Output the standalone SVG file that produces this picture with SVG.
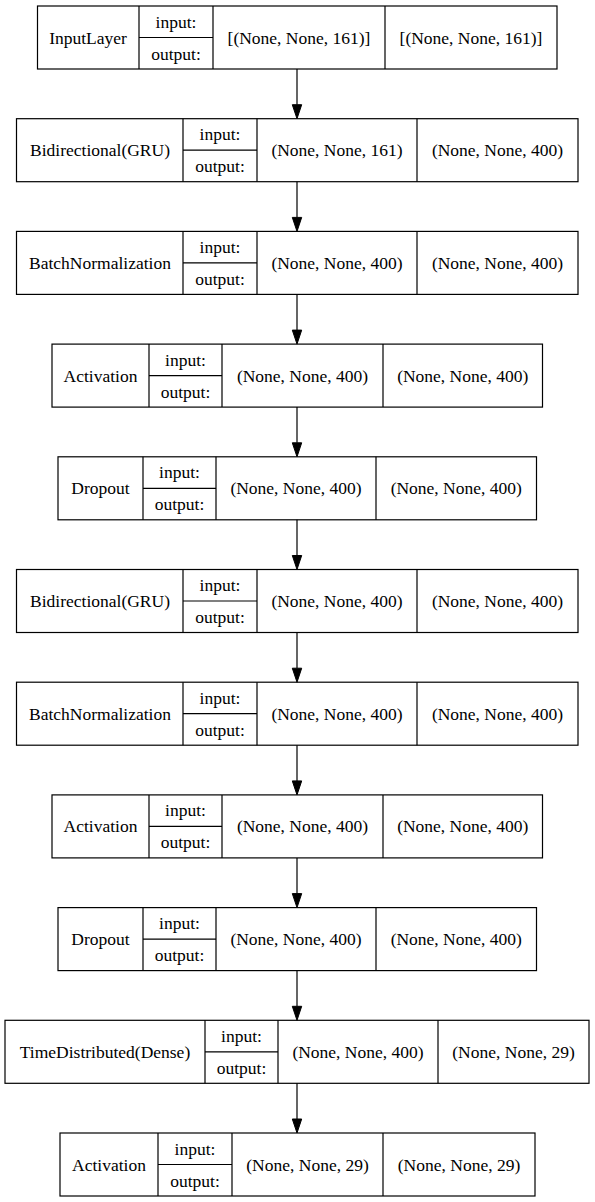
<svg xmlns="http://www.w3.org/2000/svg" width="595" height="1202" viewBox="0 0 595 1202">
  <style>
    .box { fill: #ffffff; stroke: #000000; stroke-width: 1.2; }
    .sep { stroke: #000000; stroke-width: 1.2; fill: none; }
    text { font-family: "Liberation Serif", "Times New Roman", serif; font-size: 17.5px; fill: #000000; text-anchor: middle; }
    .edge { stroke: #000000; stroke-width: 1.2; fill: none; }
    .head { fill: #000000; stroke: #000000; stroke-width: 1; }
  </style>
  <rect width="595" height="1202" fill="#ffffff"/>

  <!-- layer records: name | input:/output: | input shape | output shape -->
  <g id="node1">
    <rect class="box" x="37.5" y="6" width="519.5" height="63"/>
    <path class="sep" d="M139,6V69M213,6V69M385,6V69M139,37.5H213"/>
    <text x="88" y="43.5">InputLayer</text>
    <text x="176" y="27.5">input:</text>
    <text x="176" y="59.5">output:</text>
    <text x="299" y="43.5">[(None, None, 161)]</text>
    <text x="471" y="43.5">[(None, None, 161)]</text>
  </g>

  <g id="node2">
    <rect class="box" x="16.5" y="118.7" width="561.5" height="63"/>
    <path class="sep" d="M183,118.7V181.7M257,118.7V181.7M417,118.7V181.7M183,150.2H257"/>
    <text x="100" y="156.2">Bidirectional(GRU)</text>
    <text x="220" y="140.2">input:</text>
    <text x="220" y="172.2">output:</text>
    <text x="337" y="156.2">(None, None, 161)</text>
    <text x="497.5" y="156.2">(None, None, 400)</text>
  </g>

  <g id="node3">
    <rect class="box" x="16.5" y="231.4" width="561.5" height="63"/>
    <path class="sep" d="M183,231.4V294.4M257,231.4V294.4M417,231.4V294.4M183,262.9H257"/>
    <text x="100" y="268.9">BatchNormalization</text>
    <text x="220" y="252.9">input:</text>
    <text x="220" y="284.9">output:</text>
    <text x="337" y="268.9">(None, None, 400)</text>
    <text x="497.5" y="268.9">(None, None, 400)</text>
  </g>

  <g id="node4">
    <rect class="box" x="52" y="344.1" width="490.5" height="63"/>
    <path class="sep" d="M149,344.1V407.1M222,344.1V407.1M383,344.1V407.1M149,375.6H222"/>
    <text x="100.5" y="381.6">Activation</text>
    <text x="185.5" y="365.6">input:</text>
    <text x="185.5" y="397.6">output:</text>
    <text x="302.5" y="381.6">(None, None, 400)</text>
    <text x="462.75" y="381.6">(None, None, 400)</text>
  </g>

  <g id="node5">
    <rect class="box" x="58" y="456.8" width="478.5" height="63"/>
    <path class="sep" d="M143,456.8V519.8M216,456.8V519.8M376,456.8V519.8M143,488.3H216"/>
    <text x="100.5" y="494.3">Dropout</text>
    <text x="179.5" y="478.3">input:</text>
    <text x="179.5" y="510.3">output:</text>
    <text x="296" y="494.3">(None, None, 400)</text>
    <text x="456.25" y="494.3">(None, None, 400)</text>
  </g>

  <g id="node6">
    <rect class="box" x="16.5" y="569.5" width="561.5" height="63"/>
    <path class="sep" d="M183,569.5V632.5M257,569.5V632.5M417,569.5V632.5M183,601H257"/>
    <text x="100" y="607">Bidirectional(GRU)</text>
    <text x="220" y="591">input:</text>
    <text x="220" y="623">output:</text>
    <text x="337" y="607">(None, None, 400)</text>
    <text x="497.5" y="607">(None, None, 400)</text>
  </g>

  <g id="node7">
    <rect class="box" x="16.5" y="682.2" width="561.5" height="63"/>
    <path class="sep" d="M183,682.2V745.2M257,682.2V745.2M417,682.2V745.2M183,713.7H257"/>
    <text x="100" y="719.7">BatchNormalization</text>
    <text x="220" y="703.7">input:</text>
    <text x="220" y="735.7">output:</text>
    <text x="337" y="719.7">(None, None, 400)</text>
    <text x="497.5" y="719.7">(None, None, 400)</text>
  </g>

  <g id="node8">
    <rect class="box" x="52" y="794.9" width="490.5" height="63"/>
    <path class="sep" d="M149,794.9V857.9M222,794.9V857.9M383,794.9V857.9M149,826.4H222"/>
    <text x="100.5" y="832.4">Activation</text>
    <text x="185.5" y="816.4">input:</text>
    <text x="185.5" y="848.4">output:</text>
    <text x="302.5" y="832.4">(None, None, 400)</text>
    <text x="462.75" y="832.4">(None, None, 400)</text>
  </g>

  <g id="node9">
    <rect class="box" x="58" y="907.6" width="478.5" height="63"/>
    <path class="sep" d="M143,907.6V970.6M216,907.6V970.6M376,907.6V970.6M143,939.1H216"/>
    <text x="100.5" y="945.1">Dropout</text>
    <text x="179.5" y="929.1">input:</text>
    <text x="179.5" y="961.1">output:</text>
    <text x="296" y="945.1">(None, None, 400)</text>
    <text x="456.25" y="945.1">(None, None, 400)</text>
  </g>

  <g id="node10">
    <rect class="box" x="5" y="1020.3" width="584" height="63"/>
    <path class="sep" d="M205,1020.3V1083.3M278,1020.3V1083.3M438,1020.3V1083.3M205,1051.8H278"/>
    <text x="105" y="1057.8">TimeDistributed(Dense)</text>
    <text x="241.5" y="1041.8">input:</text>
    <text x="241.5" y="1073.8">output:</text>
    <text x="358" y="1057.8">(None, None, 400)</text>
    <text x="513.5" y="1057.8">(None, None, 29)</text>
  </g>

  <g id="node11">
    <rect class="box" x="60" y="1133" width="475" height="63"/>
    <path class="sep" d="M158,1133V1196M232,1133V1196M383,1133V1196M158,1164.5H232"/>
    <text x="109" y="1170.5">Activation</text>
    <text x="195" y="1154.5">input:</text>
    <text x="195" y="1186.5">output:</text>
    <text x="307.5" y="1170.5">(None, None, 29)</text>
    <text x="459" y="1170.5">(None, None, 29)</text>
  </g>

  <!-- connectors: straight drops from each layer to the next -->
  <g id="edges">
    <path class="edge" d="M297,69V104.7M297,181.7V217.4M297,294.4V330.1M297,407.1V442.8M297,519.8V555.5M297,632.5V668.2M297,745.2V780.9M297,857.9V893.6M297,970.6V1006.3M297,1083.3V1119"/>
    <polygon class="head" points="297,118.7 292.3,104.7 301.7,104.7"/>
    <polygon class="head" points="297,231.4 292.3,217.4 301.7,217.4"/>
    <polygon class="head" points="297,344.1 292.3,330.1 301.7,330.1"/>
    <polygon class="head" points="297,456.8 292.3,442.8 301.7,442.8"/>
    <polygon class="head" points="297,569.5 292.3,555.5 301.7,555.5"/>
    <polygon class="head" points="297,682.2 292.3,668.2 301.7,668.2"/>
    <polygon class="head" points="297,794.9 292.3,780.9 301.7,780.9"/>
    <polygon class="head" points="297,907.6 292.3,893.6 301.7,893.6"/>
    <polygon class="head" points="297,1020.3 292.3,1006.3 301.7,1006.3"/>
    <polygon class="head" points="297,1133 292.3,1119 301.7,1119"/>
  </g>
</svg>
